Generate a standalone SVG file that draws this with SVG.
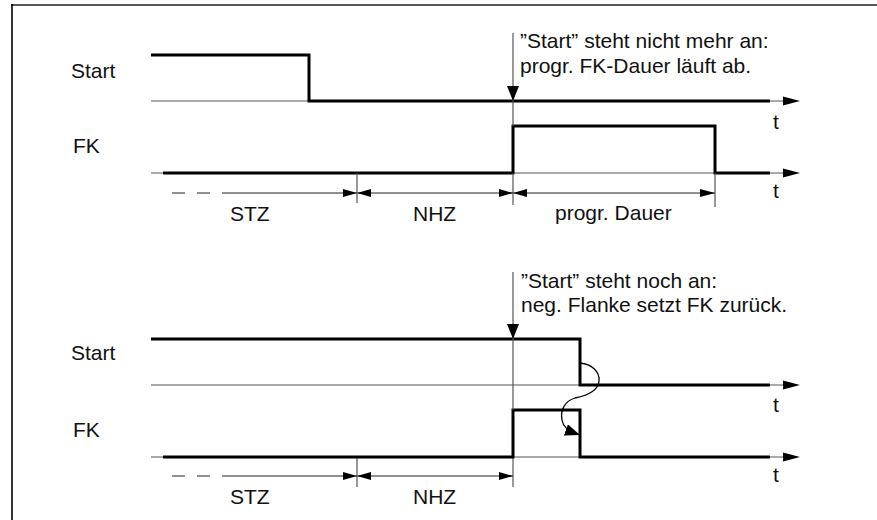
<svg xmlns="http://www.w3.org/2000/svg" width="877" height="520" viewBox="0 0 877 520">
<defs>
<style>
text{font-family:"Liberation Sans",Arial,sans-serif;font-size:21px;fill:#111}
.base{stroke:#555;stroke-width:1.2;fill:none}
.sig{stroke:#000;stroke-width:3;fill:none}
.dim{stroke:#222;stroke-width:1.2;fill:none}
.tick{stroke:#555;stroke-width:1.2;fill:none}
.dash{stroke:#222;stroke-width:1.2;fill:none;stroke-dasharray:13,12}
.ah{fill:#000}
</style>
<marker id="curv" markerWidth="16" markerHeight="12" refX="15" refY="6" orient="auto" markerUnits="userSpaceOnUse">
<path d="M0,0 L15,6 L0,12 z" fill="#000"/>
</marker>
</defs>
<rect width="877" height="520" fill="#fff"/>
<line x1="11" y1="5" x2="877" y2="5" stroke="#555" stroke-width="2"/>
<line x1="12" y1="4" x2="12" y2="520" stroke="#000" stroke-width="1.6"/>

<g id="top-start">
<text x="71" y="78">Start</text>
<line class="base" x1="151" y1="101" x2="785" y2="101"/>
<polyline class="sig" points="151,55 309,55 309,101 770,101"/>
<path class="ah" d="M783,96.5 L800,101 L783,105.5 z"/>
<text x="773" y="129">t</text>
</g>

<g id="top-fk">
<text x="73" y="153">FK</text>
<line class="base" x1="151" y1="173" x2="785" y2="173"/>
<polyline class="sig" points="163,173 513,173 513,126 715,126 715,173 770,173"/>
<path class="ah" d="M783,168.5 L800,173 L783,177.5 z"/>
<text x="773" y="198">t</text>
</g>

<g id="top-note">
<line class="tick" x1="513" y1="33" x2="513" y2="126"/>
<path class="ah" d="M507,86 L513,101 L519,86 z"/>
<text x="520" y="48">”Start” steht nicht mehr an:</text>
<text x="520" y="73">progr. FK-Dauer läuft ab.</text>
</g>

<g id="connectors">
<line class="dash" x1="172" y1="193" x2="222" y2="193"/>
<line class="dim" x1="222" y1="193" x2="715" y2="193"/>
<line class="tick" x1="357" y1="173" x2="357" y2="203"/>
<line class="tick" x1="513" y1="173" x2="513" y2="205"/>
<line class="tick" x1="715" y1="173" x2="715" y2="207"/>
<path class="ah" d="M343,189 L357,193 L343,197 z"/>
<path class="ah" d="M371,189 L357,193 L371,197 z"/>
<path class="ah" d="M499,189 L513,193 L499,197 z"/>
<path class="ah" d="M527,189 L513,193 L527,197 z"/>
<path class="ah" d="M700,189 L715,193 L700,197 z"/>
<line class="dash" x1="172" y1="476" x2="222" y2="476"/>
<line class="dim" x1="222" y1="476" x2="513" y2="476"/>
<line class="tick" x1="357" y1="457" x2="357" y2="487"/>
<line class="tick" x1="513" y1="457" x2="513" y2="487"/>
<path class="ah" d="M343,472 L357,476 L343,480 z"/>
<path class="ah" d="M371,472 L357,476 L371,480 z"/>
<path class="ah" d="M499,472 L513,476 L499,480 z"/>
<path d="M580,363 C592,364 600,372 599,381 C598,392 585,396 575,398 C565,401 560,410 562,420 C563,426 566,430 580,435" fill="none" stroke="#000" stroke-width="1.3" marker-end="url(#curv)"/>
</g>

<g id="top-labels">
<text x="230" y="221">STZ</text>
<text x="413" y="221">NHZ</text>
<text x="555" y="220">progr. Dauer</text>
</g>

<g id="bottom-start">
<text x="71" y="360">Start</text>
<line class="base" x1="151" y1="385" x2="785" y2="385"/>
<polyline class="sig" points="151,339 580,339 580,385 770,385"/>
<path class="ah" d="M783,380.5 L800,385 L783,389.5 z"/>
<text x="773" y="412">t</text>
</g>

<g id="bottom-fk">
<text x="73" y="437">FK</text>
<line class="base" x1="151" y1="457" x2="785" y2="457"/>
<polyline class="sig" points="163,457 513,457 513,410 580,410 580,457 770,457"/>
<path class="ah" d="M783,452.5 L800,457 L783,461.5 z"/>
<text x="773" y="482">t</text>
</g>

<g id="bottom-note">
<line class="tick" x1="513" y1="272" x2="513" y2="410"/>
<path class="ah" d="M507,324 L513,339 L519,324 z"/>
<text x="521" y="288">”Start” steht noch an:</text>
<text x="521" y="312">neg. Flanke setzt FK zurück.</text>
</g>

<g id="bottom-labels">
<text x="230" y="504">STZ</text>
<text x="413" y="504">NHZ</text>
</g>
</svg>
